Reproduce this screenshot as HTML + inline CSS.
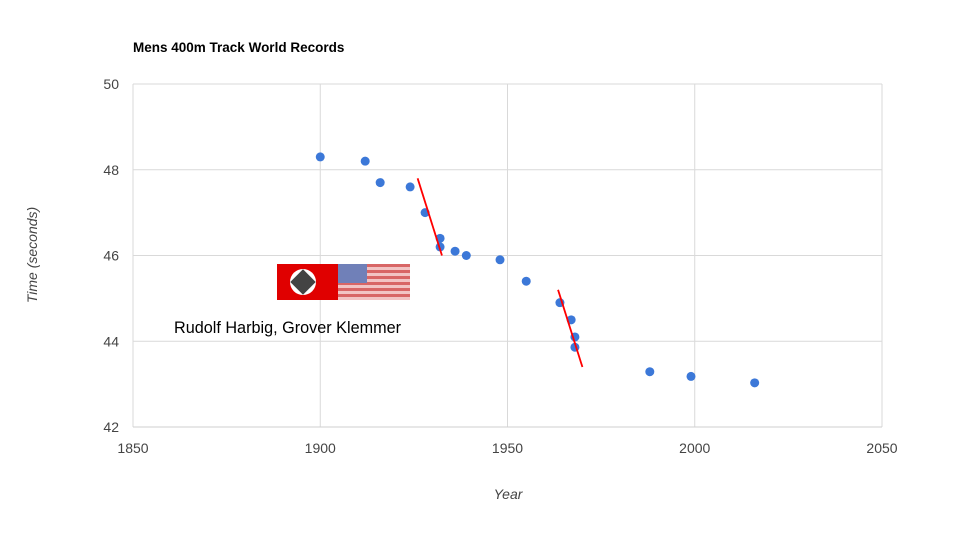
<!DOCTYPE html>
<html><head><meta charset="utf-8">
<style>
body{margin:0;background:#fff;}
svg{display:block;font-family:"Liberation Sans",Arial,sans-serif;}
</style></head>
<body>
<svg id="chart" width="960" height="540">
  <text x="133" y="52" font-size="13.5" font-weight="bold" fill="#000">Mens 400m Track World Records</text>
  <g id="grid"></g>
  <g id="marks"></g>
  <text transform="translate(37,255) rotate(-90)" text-anchor="middle" font-size="14" font-style="italic" fill="#444">Time (seconds)</text>
  <text x="508" y="499" text-anchor="middle" font-size="14" font-style="italic" fill="#444">Year</text>
  <g>
    <rect x="277" y="264" width="61" height="36" fill="#e00000"/>
    <circle cx="303" cy="282" r="13" fill="#fff"/>
    <rect x="294" y="273" width="18" height="18" fill="#222" transform="rotate(45 303 282)" opacity="0.85"/>
    <rect x="338" y="264" width="72" height="36" fill="#f2c4c4"/>
    <g fill="#d86666">
      <rect x="338" y="264" width="72" height="3"/><rect x="338" y="270" width="72" height="3"/>
      <rect x="338" y="276" width="72" height="3"/><rect x="338" y="282" width="72" height="3"/>
      <rect x="338" y="288" width="72" height="3"/><rect x="338" y="294" width="72" height="3"/>
    </g>
    <rect x="338" y="264" width="29" height="19" fill="#7080b8"/>
  </g>
  <text x="174" y="333" font-size="16.5" textLength="227" lengthAdjust="spacingAndGlyphs" fill="#000">Rudolf Harbig, Grover Klemmer</text>
</svg>
<script>
const years = [1900,1912,1916,1924,1928,1932,1932,1936,1939,1948,1955,1964,1967,1968,1968,1988,1999,2016];
const times = [48.3,48.2,47.7,47.6,47.0,46.4,46.2,46.1,46.0,45.9,45.4,44.9,44.5,44.1,43.86,43.29,43.18,43.03];
const xTicks = [1850,1900,1950,2000,2050];
const yTicks = [42,44,46,48,50];
const trendA = [[1926,47.8],[1932.5,46.0]];
const trendB = [[1963.5,45.2],[1970,43.4]];

const NS="http://www.w3.org/2000/svg";
const xs = v => 133 + (v-1850)*(882-133)/200;
const ys = v => 427 - (v-42)*(427-84)/8;
function mk(tag, attrs, parent){const e=document.createElementNS(NS,tag);for(const k in attrs)e.setAttribute(k,attrs[k]);parent.appendChild(e);return e;}
const grid=document.getElementById('grid'), marks=document.getElementById('marks');
xTicks.forEach(t=>{
  const l=mk('line',{x1:xs(t),x2:xs(t),y1:84,y2:427,stroke:'#d9d9d9','stroke-width':1},grid);
  
  
  const tx=mk('text',{x:xs(t),y:453,'text-anchor':'middle','font-size':14,fill:'#444'},grid);
  tx.textContent=t;
  
  
});
yTicks.forEach(t=>{
  const l=mk('line',{x1:133,x2:882,y1:ys(t),y2:ys(t),stroke:t===42?'#cfcfcf':'#d9d9d9','stroke-width':1},grid);
  
  
  const tx=mk('text',{x:119,y:ys(t)+5,'text-anchor':'end','font-size':14,fill:'#444'},grid);
  tx.textContent=t;
  
  
});
years.forEach((y,i)=>{
  const c=mk('circle',{cx:xs(y),cy:ys(times[i]),r:4.5,fill:'#3c78d8'},marks);
  
  
});
[trendA,trendB].forEach(tr=>{
  const l=mk('line',{x1:xs(tr[0][0]),y1:ys(tr[0][1]),x2:xs(tr[1][0]),y2:ys(tr[1][1]),stroke:'#ff0000','stroke-width':1.8},marks);
  
  
});
</script>
</body></html>
